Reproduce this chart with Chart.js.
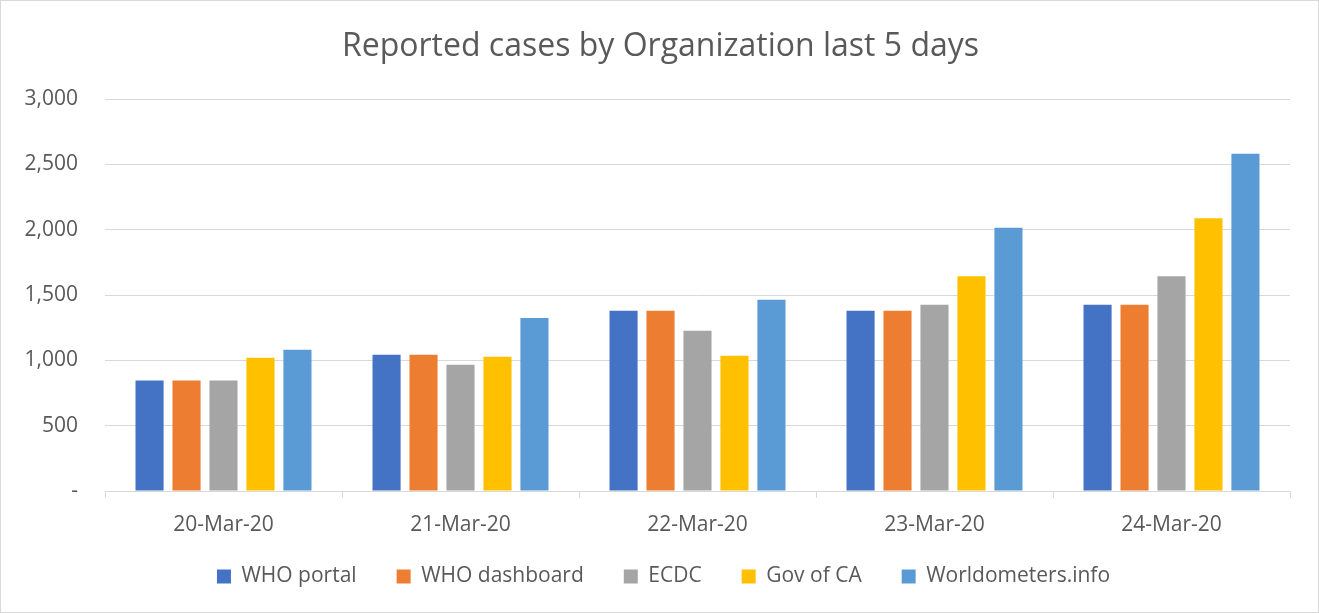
<!DOCTYPE html>
<html><head><meta charset="utf-8">
<script src="https://cdn.jsdelivr.net/npm/chart.js@4"></script>
<style>
html,body{margin:0;padding:0;background:#fff;}
#wrap{width:1319px;height:613px;box-sizing:border-box;border:1px solid #d9d9d9;}
</style></head>
<body><div id="wrap"><canvas id="c" width="1317" height="611"></canvas></div>
<script>
const categories = ["20-Mar-20","21-Mar-20","22-Mar-20","23-Mar-20","24-Mar-20"];
const seriesNames = ["WHO portal","WHO dashboard","ECDC","Gov of CA","Worldometers.info"];
const whoPortal = [845, 1043, 1380, 1380, 1426];
const whoDashboard = [845, 1043, 1380, 1380, 1426];
const ecdc = [845, 966, 1227, 1426, 1643];
const govCA = [1020, 1028, 1035, 1643, 2087];
const worldometers = [1081, 1324, 1464, 2015, 2581];
const yTicks = [0, 500, 1000, 1500, 2000, 2500, 3000];
const colors = ["#4472C4","#ED7D31","#A5A5A5","#FFC000","#5B9BD5"];

const values = [whoPortal, whoDashboard, ecdc, govCA, worldometers];
const font = "'Open Sans', sans-serif";
const layoutTweak = {
  id: 'layoutTweak',
  beforeLayout(chart) {
    const lg = chart.legend;
    if (lg && !lg._patched) {
      const f = lg.fit;
      lg.fit = function() { f.call(this); this.height = 75; };
      lg._patched = true;
    }
  },
  afterLayout(chart) {
    const lg = chart.legend;
    if (lg) { lg.top -= 11; lg.bottom -= 11; lg.left += 8; lg.right += 8; }
    const t = chart.titleBlock;
    if (t) { t.left += 5; t.right += 5; }
  }
};
new Chart(document.getElementById('c'), {
  type: 'bar',
  data: {
    labels: categories,
    datasets: seriesNames.map((n,i)=>({
      label: n, data: values[i], backgroundColor: colors[i],
      borderWidth: 0,
      categoryPercentage: 0.78, barPercentage: 0.76
    }))
  },
  plugins: [layoutTweak],
  options: {
    responsive: false, animation: false,
    layout: {padding: {left: 20, right: 28, top: 0, bottom: 0}},
    plugins: {
      title: {display: true, text: 'Reported cases by Organization last 5 days',
        color: '#595959', font: {family: font, size: 32, weight: 'normal'},
        padding: {top: 27, bottom: 32.6}},
      legend: {position: 'bottom',
        labels: {color: '#595959', font: {family: font, size: 21},
          boxWidth: 14, boxHeight: 14, padding: 40}},
      tooltip: {enabled: false}
    },
    scales: {
      x: {
        afterFit: (s) => { s.height = 46; },
        grid: {display: true, offset: true, drawOnChartArea: false, color: '#d9d9d9', tickLength: 7},
        border: {color: '#d9d9d9', width: 1},
        ticks: {color: '#595959', font: {family: font, size: 21}, padding: 14}
      },
      y: {
        min: 0, max: 3000,
        afterBuildTicks: (s) => { s.ticks = yTicks.map(v=>({value:v})); },
        afterFit: (s) => { s.width = 84; },
        grid: {color: '#d9d9d9', drawTicks: false, lineWidth: 1},
        border: {display: false},
        ticks: {color: '#595959', font: {family: font, size: 21}, padding: 27,
          callback: (v) => v === 0 ? '-' : v.toLocaleString('en-US')}
      }
    }
  }
});
</script></body></html>
